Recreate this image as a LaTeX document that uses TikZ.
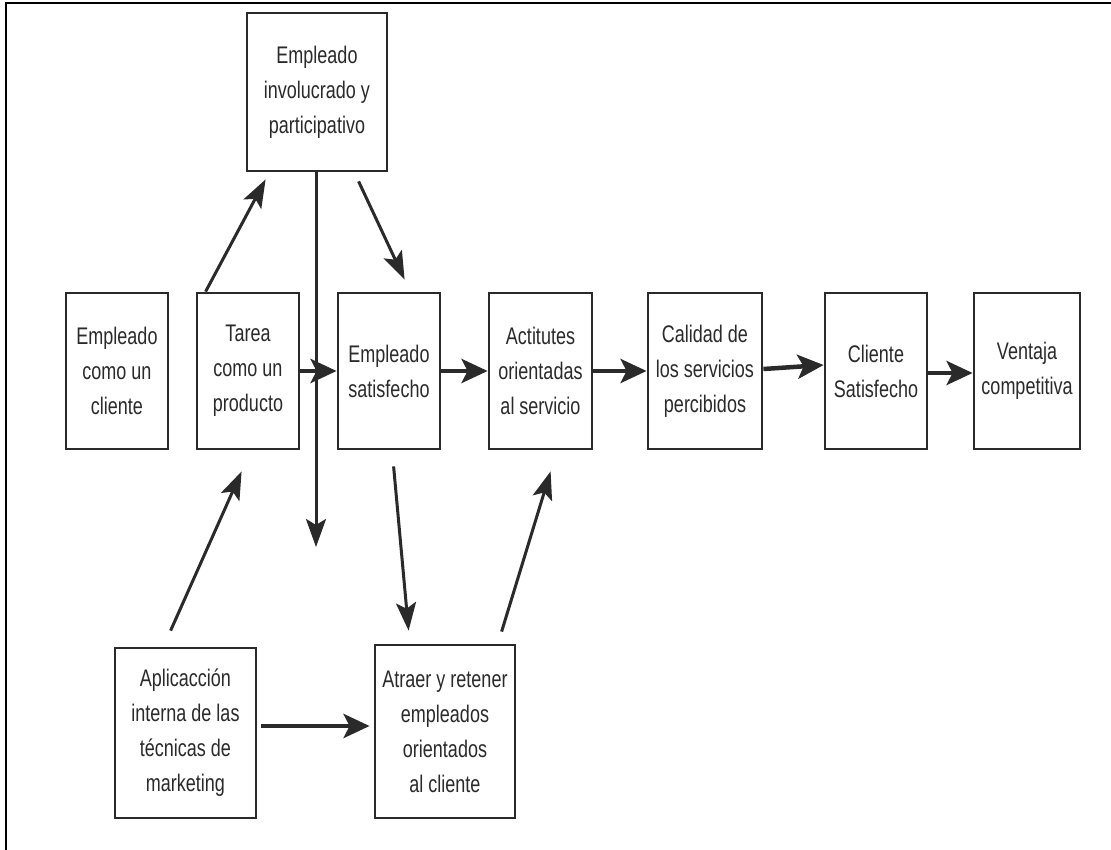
\documentclass[tikz,border=0pt]{standalone}
\usepackage{fontspec}
\setmainfont[FakeStretch=0.75]{Liberation Sans}
\usetikzlibrary{arrows.meta}
\definecolor{ink}{HTML}{2A2A2A}
\begin{document}
\begin{tikzpicture}[x=1pt,y=-1pt,
  box/.style={draw=ink, line width=2.8pt, fill=white, align=center, inner sep=0pt,
    font=\fontsize{24}{35}\selectfont, text=ink},
  rowbox/.style={box, minimum width=102pt, minimum height=156pt},
  flow/.style={draw=ink, line width=4.5pt, -{Stealth[length=26pt,width=24pt,inset=6pt]}},
  link/.style={draw=ink, line width=3pt, -{Stealth[length=28pt,width=20pt,inset=6pt]}}]
  % page and frame
  \fill[white] (0,0) rectangle (1111,850);
  \useasboundingbox (0,0) rectangle (1111,850);
  \draw[black, line width=1.4pt] (6,850) -- (6,3) -- (1111,3);

  % boxes
  \node[box, minimum width=140pt, minimum height=158pt] (inv) at (317,92)
    {Empleado\\involucrado y\\participativo};
  \node[rowbox] (cli) at (117,371) {Empleado\\como un\\cliente};
  \node[rowbox] (tar) at (248,371) {Tarea\\como un\\producto};
  \node[rowbox] (sat) at (389,371) {Empleado\\satisfecho};
  \node[rowbox, minimum width=103pt] (act) at (540.5,371) {Actitutes\\orientadas\\al servicio};
  \node[rowbox, minimum width=114pt] (cal) at (705,371) {Calidad de\\los servicios\\percibidos};
  \node[rowbox] (csat) at (876,371) {Cliente\\Satisfecho};
  \node[rowbox, minimum width=106pt] (ven) at (1027,371) {Ventaja\\competitiva};
  \node[box, minimum width=141pt, minimum height=170pt] (apl) at (185.5,733)
    {Aplicacción\\interna de las\\técnicas de\\marketing};
  \node[box, minimum width=140pt, minimum height=173pt] (atr) at (445,731.5)
    {Atraer y retener\\empleados\\orientados\\al cliente};

  % free end of the downward line
  \coordinate (invdown) at (316,547);

  % main chain
  \draw[flow] (tar.east) -- (sat.west);
  \draw[flow] (sat.east) -- (act.west);
  \draw[flow] (act.east) -- (cal.west);
  \draw[flow] ([yshift=2pt]cal.east) -- ([yshift=6pt]csat.west);
  \draw[flow] ([yshift=-2pt]csat.east) -- ([yshift=-2pt]ven.west);
  \draw[flow] ([xshift=4pt,yshift=7pt]apl.east) -- ([xshift=-4pt,yshift=5.5pt]atr.west);

  % sloped links
  \draw[link] ([xshift=10pt]tar.north west) -- ([xshift=20pt,yshift=-7pt]inv.south west);
  \draw[link] ([xshift=113pt,yshift=-9pt]inv.south west) -- ([xshift=68pt,yshift=12pt]sat.north west);
  \draw[link] (inv.south -| invdown) -- (invdown);
  \draw[link] ([xshift=57pt,yshift=-16pt]sat.south west) -- ([xshift=35pt,yshift=13pt]atr.north west);
  \draw[link] ([xshift=128pt,yshift=12pt]atr.north west) -- ([xshift=63pt,yshift=-21pt]act.south west);
  \draw[link] ([xshift=57pt,yshift=16pt]apl.north west) -- ([xshift=46pt,yshift=-21pt]tar.south west);
\end{tikzpicture}
\end{document}
